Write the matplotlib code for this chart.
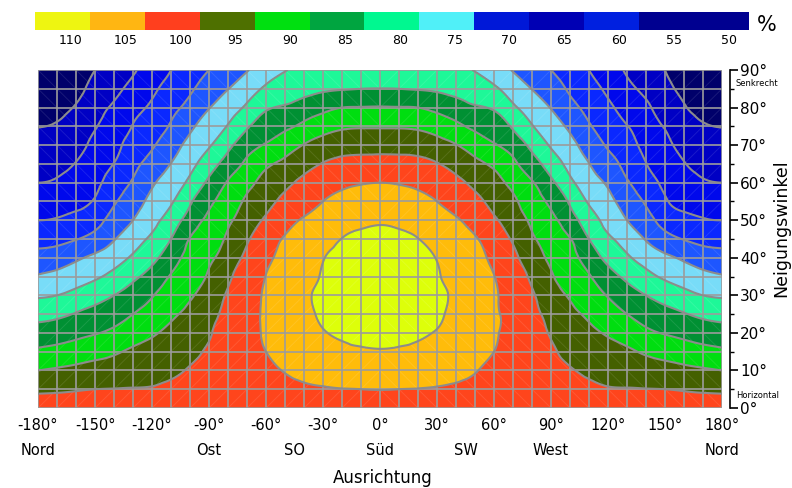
import numpy as np
import matplotlib
matplotlib.use("Agg")
import matplotlib.pyplot as plt
import matplotlib.tri as mtri
from matplotlib.collections import LineCollection
from matplotlib.colors import ListedColormap
from matplotlib.transforms import blended_transform_factory

# === Daten ===
# Neigungswinkel der Rasterpunkte (Grad)
TILTS = [0, 5, 10, 15, 20, 25, 30, 35, 40, 45, 50, 55, 60, 65, 70, 75, 80, 85, 90]
# Ausrichtung 0..180 Grad, die Grafik ist symmetrisch zu Sued (0)
AZIMUTHS_HALF = [0, 10, 20, 30, 40, 50, 60, 70, 80, 90, 100, 110, 120, 130, 140, 150, 160, 170, 180]

# relative Einstrahlung in %, je Ausrichtung eine Spalte von 0 bis 90 Grad Neigung
yield_by_azimuth = [
    [102, 105.1, 107.4, 109.7, 111.3, 112.6, 113.3, 113.3, 112.5, 111.3, 109.5, 107.3, 105.0, 101.7, 98.3, 94.6, 90.3, 85.1, 81.5],  # 0
    [102, 105.0, 107.3, 109.5, 111.0, 112.3, 113.0, 113.0, 112.2, 111.0, 109.1, 107.0, 104.7, 101.6, 98.2, 94.6, 90.2, 85.0, 81.4],  # 10
    [102, 104.9, 107.0, 109.0, 110.6, 111.7, 112.4, 112.3, 111.5, 110.1, 108.2, 106.3, 104.0, 101.2, 98.0, 94.3, 90.0, 84.7, 81.2],  # 20
    [102, 104.7, 106.4, 107.9, 109.7, 110.6, 110.9, 110.4, 109.8, 108.0, 106.5, 105.0, 102.6, 100.2, 96.9, 93.1, 88.6, 84.3, 81.0],  # 30
    [102, 104.3, 106.2, 107.4, 108.3, 109.0, 109.3, 108.6, 107.8, 106.8, 105.4, 103.3, 101.1, 98.4, 95.2, 91.1, 87.0, 83.5, 80.6],  # 40
    [102, 103.6, 105.2, 106.2, 106.9, 107.3, 107.3, 106.9, 106.3, 105.4, 103.3, 101.3, 98.9, 96.1, 92.7, 89.0, 85.5, 82.6, 79.8],  # 50
    [102, 103.2, 104.3, 105.0, 105.5, 105.6, 105.5, 105.1, 104.0, 102.7, 100.6, 98.6, 96.6, 94.2, 90.4, 87.4, 84.4, 80.8, 77.5],  # 60
    [102, 102.8, 103.4, 103.7, 103.8, 103.7, 103.2, 102.3, 101.0, 99.5, 97.7, 95.9, 93.7, 91.0, 87.9, 84.4, 80.9, 77.7, 74.7],  # 70
    [102, 102.4, 102.6, 102.6, 102.3, 101.6, 100.6, 99.2, 97.5, 95.8, 94.1, 92.2, 90.4, 87.1, 83.7, 80.3, 77.6, 74.9, 72.5],  # 80
    [102, 102.1, 101.6, 100.7, 99.5, 98.2, 96.9, 95.5, 94.1, 92.6, 91.1, 89.1, 86.1, 82.7, 79.5, 77.1, 74.8, 72.4, 70.0],  # 90
    [102, 101.2, 100.3, 98.9, 97.4, 96.0, 94.6, 93.1, 91.6, 90.2, 87.3, 84.3, 81.1, 78.6, 76.4, 74.1, 71.5, 69.3, 67.5],  # 100
    [102, 100.8, 99.3, 97.7, 96.0, 94.2, 92.3, 90.4, 87.8, 85.0, 82.2, 79.5, 77.3, 75.1, 72.8, 70.5, 68.6, 66.8, 65.0],  # 110
    [102, 100.3, 98.4, 96.5, 94.5, 92.1, 89.7, 86.9, 83.7, 80.9, 78.5, 76.4, 74.3, 71.8, 69.5, 67.7, 65.9, 64.0, 62.0],  # 120
    [102, 100.2, 98.0, 95.7, 92.9, 90.0, 87.1, 84.0, 80.7, 77.8, 75.0, 72.7, 70.5, 68.6, 66.9, 65.2, 63.2, 61.2, 59.5],  # 130
    [102, 100.1, 97.3, 94.4, 91.0, 87.9, 85.0, 81.4, 78.0, 74.7, 71.9, 69.4, 67.3, 65.1, 63.6, 62.1, 60.7, 58.9, 57.0],  # 140
    [102, 100.0, 96.8, 93.4, 89.7, 86.6, 83.1, 79.3, 76.0, 71.7, 68.1, 65.5, 63.9, 62.5, 61.1, 59.7, 58.0, 56.3, 55.0],  # 150
    [102, 99.7, 96.2, 92.4, 88.7, 85.3, 81.4, 77.8, 74.2, 69.8, 66.2, 63.8, 62.0, 60.2, 58.5, 56.9, 55.3, 54.1, 53.0],  # 160
    [102, 99.4, 95.6, 91.5, 87.7, 84.0, 80.0, 76.4, 72.4, 68.6, 65.3, 62.9, 60.5, 58.7, 57.0, 55.3, 54.3, 53.4, 52.5],  # 170
    [102, 99.2, 95.0, 90.8, 87.1, 83.3, 79.4, 75.4, 71.7, 68.2, 65.0, 62.5, 60.0, 58.3, 56.6, 54.9, 53.9, 53.0, 52.0],  # 180
]

LEVELS = [50, 55, 60, 65, 70, 75, 80, 85, 90, 95, 100, 105, 110, 115]
BAND_COLORS = ["#00006a", "#0000c4", "#0008ec", "#0a28ff", "#1e56ff", "#78dcf8",
               "#1ef898", "#009033", "#00de10", "#446000", "#ff451c", "#ffbc0a", "#ddff0a"]

LEGEND_LABELS = ["110", "105", "100", "95", "90", "85", "80", "75", "70", "65", "60", "55", "50"]
LEGEND_COLORS = ["#eef511", "#ffb612", "#ff3f1e", "#4e7000", "#00e010", "#00a540", "#00f890",
                 "#50f0f8", "#0018d8", "#0000b4", "#0020e0", "#000090", "#000090"]

XTICKS = [-180, -150, -120, -90, -60, -30, 0, 30, 60, 90, 120, 150, 180]
YTICKS = [0, 10, 20, 30, 40, 50, 60, 70, 80, 90]
DIRECTIONS = ["Nord", "Ost", "SO", "Süd", "SW", "West", "Nord"]
DIRECTION_POS = [-180, -90, -45, 0, 45, 90, 180]

GRID_COLOR = "#9c9c9c"


def cell_diagonals(az, tilts):
    """feine Diagonalen der Rasterzellen (Rautenmuster um Sued / 45 Grad)"""
    segs = []
    for i in range(len(az) - 1):
        for j in range(len(tilts) - 1):
            a0, a1 = az[i], az[i + 1]
            t0, t1 = tilts[j], tilts[j + 1]
            rising = (a0 >= 0) == (t0 >= 45)
            if rising:
                segs.append([(a0, t0), (a1, t1)])
            else:
                segs.append([(a0, t1), (a1, t0)])
    return segs


def main():
    tilts = np.array(TILTS)
    az_half = np.array(AZIMUTHS_HALF)
    z_half = np.array(yield_by_azimuth).T
    # Spiegeln an Sued
    az = np.concatenate([-az_half[:0:-1], az_half])
    z = np.hstack([z_half[:, :0:-1], z_half])

    # glatte Isolinien ueber das Dreiecksnetz von matplotlib
    AZ, TI = np.meshgrid(az, tilts)
    triang = mtri.Triangulation(AZ.ravel(), TI.ravel())
    tri_fine, z_fine = mtri.UniformTriRefiner(triang).refine_field(z.ravel(), subdiv=3)

    fig = plt.figure(figsize=(7.92, 4.88), dpi=100)
    ax = fig.add_axes([38 / 792, 80 / 488, 684 / 792, 338 / 488])

    ax.tricontourf(tri_fine, z_fine, levels=LEVELS, colors=BAND_COLORS)
    ax.add_collection(LineCollection(cell_diagonals(az, tilts), colors="white",
                                     linewidths=0.7, alpha=0.1, zorder=1.5))
    ax.vlines(az, 0, 90, color=GRID_COLOR, lw=1.2, zorder=2)
    ax.hlines(tilts, -180, 180, color=GRID_COLOR, lw=1.2, zorder=2)
    ax.tricontour(tri_fine, z_fine, levels=LEVELS[1:-1], colors="#8c8c8c",
                  linewidths=1.5, zorder=3)

    ax.set_xlim(-180, 180)
    ax.set_ylim(0, 90)

    for side in ["top", "left", "bottom"]:
        ax.spines[side].set_visible(False)
    ax.spines["right"].set_position(("outward", 6))
    ax.spines["right"].set_linewidth(1.2)

    ax.set_xticks(XTICKS)
    ax.set_xticklabels([f"{v}°" for v in XTICKS], fontsize=10.5)
    ax.tick_params(axis="x", length=0, pad=7)

    ax.yaxis.tick_right()
    ax.set_yticks(YTICKS)
    ax.set_yticks(TILTS, minor=True)
    ax.set_yticklabels([f"{v}°" for v in YTICKS], fontsize=11)
    ax.tick_params(axis="y", which="major", length=6, width=1.2, pad=1)
    ax.tick_params(axis="y", which="minor", length=3, width=1.0)

    trans = blended_transform_factory(ax.transData, ax.transAxes)
    for name, pos in zip(DIRECTIONS, DIRECTION_POS):
        ax.text(pos, -0.125, name, transform=trans, ha="center", va="center", fontsize=10.5)

    fig.text(383 / 792, 10 / 488, "Ausrichtung", ha="center", va="center", fontsize=12)
    fig.text(781 / 792, 1 - 228 / 488, "Neigungswinkel", rotation=90,
             ha="center", va="center", fontsize=12.5)
    fig.text(735 / 792, 1 - 84 / 488, "Senkrecht", ha="left", va="center", fontsize=6)
    fig.text(736 / 792, 1 - 396 / 488, "Horizontal", ha="left", va="center", fontsize=6)

    # === Legende ===
    lax = fig.add_axes([35 / 792, 1 - 30 / 488, 713 / 792, 18 / 488])
    n = len(LEGEND_COLORS)
    lax.imshow(np.arange(n).reshape(1, -1), cmap=ListedColormap(LEGEND_COLORS),
               aspect="auto", extent=(0, n, 0, 1), interpolation="nearest")
    for s in lax.spines.values():
        s.set_visible(False)
    lax.set_yticks([])
    lax.set_xticks(np.arange(n) + 0.65)
    lax.set_xticklabels(LEGEND_LABELS, fontsize=9)
    lax.tick_params(axis="x", length=0, pad=3)
    fig.text(767 / 792, 1 - 25 / 488, "%", ha="center", va="center", fontsize=15)

    fig.savefig("out.png", dpi=100)


if __name__ == "__main__":
    main()
